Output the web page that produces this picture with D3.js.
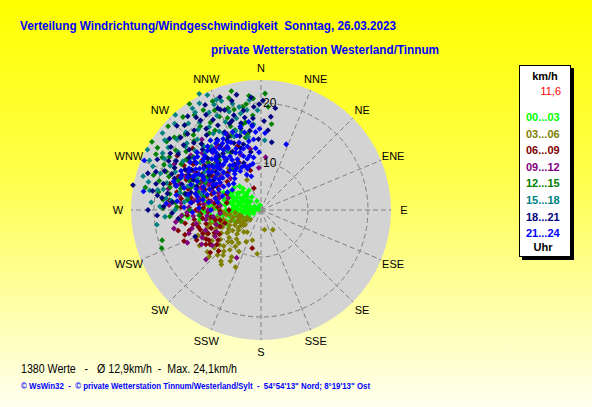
<!DOCTYPE html>
<html>
<head>
<meta charset="utf-8">
<script src="https://cdn.jsdelivr.net/npm/d3@7"></script>
<style>
  html, body { margin: 0; padding: 0; background: #fff; }
  svg { display: block; font-family: Arial, "Liberation Sans", sans-serif; }
</style>
</head>
<body>
<svg id="chart" width="592" height="407"></svg>
<script>
// wind direction labels, clockwise from north
const directions = ["N", "NNE", "NE", "ENE", "E", "ESE", "SE", "SSE", "S", "SSW", "SW", "WSW", "W", "WNW", "NW", "NNW"];
const ringTicks = [10, 20];

const timeLabels = ["00...03", "03...06", "06...09", "09...12", "12...15", "15...18", "18...21", "21...24"];
const timeColors = ["#00ff00", "#808000", "#800000", "#800080", "#008000", "#008080", "#000080", "#0000ff"];

// [direction in degrees, speed km/h] per 3-hour block
const h00 = [[297,2.9],[302,4.7],[304,5.8],[258,3.7],[243,5.1],[240,6.2],[266,7.3],[262,8.6],[261,10.3],[261,12.5],[264,14.4],[266,15.2],[272,9.8],[280,6.9],[298,6.7],[320,5.8],[349,3.0],
  [285,3.5],[290,4.2],[275,4.0],[280,5.0],[270,5.5],[265,4.8],[295,5.3],[310,4.4],[300,6.2],[288,6.0],[276,6.5],[268,6.8],[255,5.6],[250,4.3],[260,6.0],[282,7.8],[292,7.2],[305,7.0],[315,6.5],[325,4.8],[335,3.8],[285,8.5],[278,9.0],[270,8.0],[258,7.5],[248,7.0],[252,8.2],[263,9.4],[274,10.8],[268,11.5],[285,10.0],[295,9.0],[300,8.2],[310,8.0],[318,7.5],[290,3.0],[280,2.6],[300,3.4],[270,3.2],[245,3.5],[235,4.5],[312,5.8],[308,6.8],[296,8.0],[283,5.6],[273,6.0],[266,6.3],[257,6.8],[286,7.0],[292,5.8],
  [270,9.0],[276,10.2],[282,9.6],[288,8.8],[294,9.8],[264,10.6],[258,9.2],[252,9.8],[266,7.8],[272,7.0],[278,8.2],[284,7.4],[290,8.0],[296,7.4],[302,7.8],[298,5.0],[288,4.6],[278,4.8],[268,4.4],[262,5.2],[256,4.6],[272,6.4],[280,6.2],[290,6.6],[300,5.6],[306,5.0],[314,5.4],[320,6.8],[328,6.0],[262,11.2],[270,12.0],[278,11.6],[256,10.8],[250,9.4],[244,8.2]];
const h03 = [[257,5.8],[240,7.2],[236,8.8],[227,5.8],[228,4.6],[218,13.0],[211,12.1],[149,6.0],[231,12.2],[212,6.5],[243,10.6],[229,9.2],[236,9.0],[335,7.7],[334,10.1],
  [245,6.5],[250,7.5],[238,6.2],[232,7.0],[225,7.8],[220,8.5],[244,8.0],[252,9.0],[248,10.2],[240,9.8],[234,10.5],[226,10.8],[222,11.4],[238,11.8],[246,12.0],[255,11.0],[260,9.5],[262,8.0],[255,7.0],[230,6.0],[218,6.8],[215,9.6],[208,10.0],[205,8.0],[235,5.2],[242,4.8],[250,5.5],[264,6.5],[270,9.0],[275,11.5],[268,12.5],[280,13.0],[290,12.0],[300,11.5],[310,12.5],[322,11.0],[248,13.5],[240,14.0],[232,13.5],[258,12.8],[224,12.6],[196,7.4],[185,9.5],[170,5.5],[252,11.5],
  [246,9.2],[240,8.4],[234,8.0],[228,7.2],[222,9.4],[250,8.4],[256,8.6],[260,10.8],[254,10.2],[242,11.0],[236,12.4],[230,11.2],[226,9.8],[218,10.6],[212,11.4],[244,6.8],[238,5.6],[232,6.4],[248,6.0],[254,6.2],[262,7.4],[266,8.4],[272,10.2],[258,9.8],[220,12.0],[214,8.8],[204,12.6],[244,12.8],[228,13.8],[216,13.4]];
const h06 = [[256,16.4],[252,15.5],[258,13.7],[242,12.5],[240,12.2],[235,10.9],[193,8.7],[342,6.0],[303,18.8],
  [250,11.0],[262,12.0],[266,14.5],[270,13.0],[275,12.5],[280,14.0],[284,11.5],[290,13.5],[295,15.0],[300,14.5],[305,12.0],[298,10.5],[288,9.5],[278,10.0],[268,9.0],[258,10.0],[248,9.5],[245,14.0],[238,13.0],[232,11.5],[255,13.0],[264,16.0],[272,15.5],[282,16.5],[292,17.0],[310,15.0],[315,13.0],[320,16.0],[325,12.5],[330,14.0],[312,17.5],[300,17.0],[286,18.0],[276,17.5],[268,11.0],[260,15.0],[248,16.0],[310,9.5],[318,10.5],[335,11.0],[345,9.0],[340,13.5],[295,8.5],[282,8.0],[270,7.5],
  [252,12.8],[246,11.8],[240,10.2],[256,11.6],[262,13.4],[266,12.2],[272,11.8],[278,12.6],[284,13.4],[290,12.2],[296,13.2],[302,13.6],[308,14.2],[262,10.6],[256,9.2],[250,8.6],[244,10.8],[236,12.4],[230,13.2],[226,12.0],[272,14.2],[278,15.6],[286,14.8],[292,15.6],[298,16.2],[304,15.8],[314,14.6],[320,13.6],[326,15.4],[274,9.4],[280,11.0],[288,10.8],[296,11.8],[248,12.6],[254,14.6]];
const h09 = [[255,14.1],[207,11.1],[343,9.7],[357,9.2],[275,15.5],[265,13.5],[260,11.5],[270,11.0],[280,12.5],[288,14.5],[294,16.0],[300,13.0],[306,15.5],[312,14.0],[318,12.0],[325,15.0],[330,10.5],[285,10.0],[276,9.0],[292,11.0],[302,10.0],[250,12.0],[245,13.0],[262,16.5],[273,17.5],[283,18.0],[298,18.5],[308,17.0],[320,17.5],[336,16.0],[350,12.5],[340,12.0],[316,9.5],[290,8.0],[265,9.0],[252,10.0],[258,17.0],[310,11.0],[296,12.0],[280,16.0],[268,14.5],[240,11.0],[228,14.5],[5,11.0],
  [278,13.4],[284,12.2],[290,12.8],[296,14.2],[302,12.4],[308,13.2],[314,15.8],[282,14.8],[276,11.8],[270,12.6],[264,11.2],[258,13.2],[252,14.8],[246,15.6],[240,13.6],[272,14.2],[288,16.4],[294,13.2],[300,15.2],[306,11.6],[286,9.4],[280,10.6],[292,9.8],[298,11.6],[262,10.2],[234,12.2],[244,10.4],[266,15.4],[304,16.6],[320,14.6]];
const h12 = [[346,22.6],[354,21.3],[4,19.4],[7,16.6],[320,22.4],[302,23.6],[301,22.3],[281,21.8],[271,18.5],[253,19.4],[249,19.9],
  [295,20.0],[305,19.5],[310,21.0],[315,20.0],[325,21.5],[330,19.0],[335,20.5],[340,18.5],[345,19.5],[350,17.0],[355,18.0],[300,17.5],[290,18.5],[285,16.0],[308,16.5],[318,17.0],[328,16.0],[338,15.5],[348,14.5],[312,14.0],[322,13.5],[332,13.0],[300,14.0],[292,15.0],[296,12.5],[305,11.5],[315,11.0],[325,10.5],[286,13.0],[278,14.5],[275,16.5],[280,19.5],[288,21.0],[298,22.0],[312,23.0],[326,23.5],[336,22.0],[342,20.0],[318,19.0],[308,18.0],[320,15.5],[330,17.5],[340,17.0],[350,15.0],[352,20.0],[300,19.8],[294,13.5],[270,14.0],[265,12.5],[283,12.0],
  [324,19.4],[318,21.2],[312,20.4],[306,21.6],[298,20.8],[292,19.2],[286,19.8],[280,17.6],[330,21.4],[336,19.2],[344,21.6],[350,19.6],[356,20.8],[2,21.6],[316,18.2],[310,16.0],[304,17.2],[296,18.2],[290,16.8],[284,17.8],[276,18.6],[272,16.2],[266,17.4],[326,17.6],[334,15.2],[342,16.2],[348,16.8],[320,13.0],[314,12.4],[308,13.6],[302,12.6],[296,15.6],[288,14.4],[282,15.2],[262,15.6]];
const h15 = [[332,24.1],[335,23.3],[338,22.0],[330,22.7],[326,22.6],[308,23.0],[298,23.6],[300,21.1],[281,19.7],[277,18.1],[262,19.7],[348,19.7],[3,13.8],
  [320,21.0],[315,22.5],[310,20.5],[305,19.0],[325,20.0],[335,19.5],[340,21.5],[345,18.0],[328,18.5],[318,18.0],[312,17.0],[302,17.5],[296,19.0],[290,20.0],[286,18.5],[292,16.5],[300,15.5],[308,15.0],[316,15.5],[324,16.5],[332,17.0],[342,16.0],[350,14.5],[355,16.5],[322,14.0],[330,13.5],[314,13.0],[304,13.5],[296,14.0],[288,15.0],[282,16.0],[276,15.0],[270,16.5],[274,20.5],[284,21.5],[294,22.5],[306,22.0],[318,23.5],[338,18.0],[345,20.5],[352,19.0],[320,12.0],[310,11.5],[285,12.5],
  [322,19.2],[316,20.2],[310,18.6],[304,20.8],[298,20.4],[292,21.6],[286,22.6],[280,21.0],[326,21.8],[332,20.6],[336,21.4],[342,19.4],[348,18.6],[354,20.6],[358,18.8],[318,16.4],[312,18.8],[306,16.8],[300,18.6],[294,17.8],[288,17.2],[282,18.8],[276,17.2],[272,19.0],[266,18.2],[328,17.2],[334,16.4],[340,15.2],[346,15.6],[322,15.6],[314,14.6],[306,12.8],[298,12.6],[290,14.2],[280,14.6]];
const h18 = [[359,19.8],[8,19.3],[9,13.6],[337,20.6],[340,19.9],[315,22.0],[296,21.4],[281,23.9],[280,20.5],[277,18.8],[267,19.5],[248,14.0],
  [325,21.0],[330,20.5],[320,19.5],[310,19.0],[300,18.5],[305,20.5],[345,21.0],[350,19.0],[355,17.5],[347,17.0],[340,17.5],[333,18.0],[326,18.5],[318,17.0],[312,16.5],[306,17.0],[298,16.5],[290,17.5],[285,19.0],[292,19.5],[336,15.5],[344,15.0],[352,15.5],[358,14.0],[328,16.0],[320,15.0],[314,14.5],[308,14.0],[300,13.5],[294,14.5],[288,16.0],[282,15.0],[275,17.0],[342,13.0],[334,13.0],[326,13.5],[318,12.5],[310,12.0],[302,11.5],[296,11.0],[330,11.0],[340,10.5],[350,12.0],[5,15.5],[2,17.0],[355,21.0],[322,22.0],[308,21.5],[288,22.0],[270,21.0],[315,18.0],[300,15.5],[335,16.5],[345,13.5],
  [324,17.6],[316,19.8],[310,17.8],[304,18.8],[298,19.6],[292,18.2],[286,17.0],[280,18.0],[332,19.2],[338,20.2],[344,18.6],[350,17.8],[356,19.4],[1,20.4],[6,17.8],[348,21.8],[340,22.2],[332,22.0],[326,20.2],[318,21.2],[312,20.2],[302,20.0],[296,18.2],[290,20.8],[284,20.2],[278,19.6],[272,18.4],[268,17.0],[264,16.0],[328,14.8],[322,13.6],[316,16.2],[306,15.8],[296,15.6],[338,14.2],[346,16.2],[354,16.4],[312,13.2],[304,12.6],[290,13.6],[284,14.2],[276,13.8],[334,15.0],[342,17.8]];
const h21 = [[3,15.0],[21,13.9],[293,23.3],[279,22.0],[359,15.7],
  [320,12.0],[315,11.0],[310,10.5],[305,11.5],[300,12.0],[325,13.0],[330,12.5],[335,11.5],[340,10.0],[345,11.0],[350,10.0],[355,12.5],[328,14.0],[322,15.0],[316,14.0],[310,13.5],[304,14.5],[298,13.0],[292,12.5],[286,11.5],[280,12.0],[296,10.0],[302,9.5],[308,9.0],[314,8.5],[320,9.0],[326,10.0],[332,9.5],[338,8.5],[344,8.0],[290,10.5],[284,10.0],[278,11.0],[272,12.5],[276,14.0],[282,14.5],[288,13.5],[294,15.5],[300,16.0],[306,15.5],[312,16.5],[318,15.5],[324,16.5],[330,15.0],[336,14.5],[342,14.0],[348,13.0],[354,14.0],[335,16.2],[328,15.8],[320,16.0],[312,15.0],[304,16.4],[296,17.0],[288,17.5],[280,16.5],[274,18.0],[340,16.0],[346,16.5],[352,17.0],[318,13.6],[326,12.4],[334,14.8],[342,15.2],[315,11.8],[308,12.5],[300,10.8],[325,11.2],[332,13.8],[286,15.5],[298,14.6],[310,14.8],[322,14.4],[290,9.0],[280,9.5],[270,10.5],[305,8.0],[298,8.5],
  [318,13.2],[312,12.8],[306,13.0],[300,14.2],[294,13.8],[324,12.2],[330,11.8],[336,12.6],[342,11.6],[348,11.4],[314,15.2],[308,16.2],[302,15.0],[296,14.8],[320,14.8],[326,14.6],[332,15.6],[338,13.2],[344,12.8],[350,13.8],[288,12.2],[284,13.4],[278,12.8],[290,14.6],[316,10.2],[310,11.6],[304,10.4],[298,11.2],[292,11.4],[322,10.6],[328,11.0],[334,10.8],[340,12.4],[346,9.8],[352,11.0],[316,12.6],[310,16.0],[306,10.8],[300,13.4],[324,9.6],[330,10.2],[336,10.0],[342,9.4],[348,15.4],[294,16.6],[286,16.8],[282,13.0],[276,16.2],[272,15.0],[268,13.6],[356,15.2],[354,16.2],[358,11.8],[320,13.8],[314,12.2],[306,14.0],[298,15.8],[292,16.6],[326,15.6],[332,14.2]];
const blocks = [h00, h03, h06, h09, h12, h15, h18, h21];

const currentSpeed = "11,6";
const statsText = "1380 Werte   -   \u00d8 12,9km/h  -  Max. 24,1km/h";
const titleText = "Verteilung Windrichtung/Windgeschwindigkeit  Sonntag, 26.03.2023";
const subtitleText = "private Wetterstation Westerland/Tinnum";
const footerText = "\u00a9 WsWin32  -  \u00a9 private Wetterstation Tinnum/Westerland/Sylt  -  54\u00b054'13\" Nord; 8\u00b019'13\" Ost";

const svg = d3.select("#chart");
const cx = 261, cy = 210, outerR = 130;

// background gradient
const defs = svg.append("defs");
const grad = defs.append("linearGradient").attr("id", "bg").attr("x1", 0).attr("y1", 0).attr("x2", 0).attr("y2", 1);
grad.append("stop").attr("offset", "0%").attr("stop-color", "#ffff00");
grad.append("stop").attr("offset", "45%").attr("stop-color", "#ffff50");
grad.append("stop").attr("offset", "100%").attr("stop-color", "#fffff0");
svg.append("rect").attr("width", 592).attr("height", 407).attr("fill", "url(#bg)");

// scales: speed -> radius, direction -> angle
const rScale = d3.scaleLinear().domain([10, 20]).range([47, 107]);
const aScale = d3.scaleLinear().domain([0, 360]).range([0, 2 * Math.PI]);
const px = (dir, v) => cx + Math.max(0, rScale(v)) * Math.sin(aScale(dir));
const py = (dir, v) => cy - Math.max(0, rScale(v)) * Math.cos(aScale(dir));

const plot = svg.append("g");
plot.append("circle").attr("cx", cx).attr("cy", cy).attr("r", outerR).attr("fill", "#d3d3d3");

// radial grid
plot.selectAll(".spoke").data(directions).enter().append("line")
    .attr("x1", cx).attr("y1", cy)
    .attr("x2", (d, i) => cx + outerR * Math.sin(aScale(i * 22.5)))
    .attr("y2", (d, i) => cy - outerR * Math.cos(aScale(i * 22.5)))
    .attr("stroke", "#808080").attr("stroke-width", 1).attr("stroke-dasharray", "5,3");

plot.selectAll(".ring").data(ringTicks).enter().append("circle")
    .attr("cx", cx).attr("cy", cy).attr("r", d => rScale(d))
    .attr("fill", "none").attr("stroke", "#808080").attr("stroke-width", 1).attr("stroke-dasharray", "5,3");

plot.append("rect").attr("x", cx - 3).attr("y", cy - 3).attr("width", 6).attr("height", 6).attr("fill", "#909090");

// wind points, oldest block first
const diamond = d3.symbol(d3.symbolSquare, 17)();
blocks.forEach((pts, k) => {
  plot.append("g").selectAll("path").data(pts).enter().append("path")
      .attr("d", diamond)
      .attr("transform", d => `translate(${px(d[0], d[1])},${py(d[0], d[1])}) rotate(45)`)
      .attr("fill", timeColors[k]);
});

// ring labels
plot.selectAll(".ringlab").data(ringTicks).enter().append("text")
    .attr("x", cx + 2).attr("y", d => cy - rScale(d) + 4)
    .attr("font-size", 12).attr("fill", "#000").text(d => d);

// direction labels
svg.selectAll(".dirlab").data(directions).enter().append("text")
    .attr("x", (d, i) => cx + 143 * Math.sin(aScale(i * 22.5)))
    .attr("y", (d, i) => cy - 142 * Math.cos(aScale(i * 22.5)) + 4)
    .attr("text-anchor", "middle").attr("font-size", 11).attr("fill", "#000")
    .text(d => d);

// titles
svg.append("text").attr("x", 20).attr("y", 30).attr("font-size", 13).attr("font-weight", "bold")
    .attr("fill", "#0000ff").attr("textLength", 376).attr("lengthAdjust", "spacingAndGlyphs")
    .style("white-space", "pre").text(titleText);
svg.append("text").attr("x", 211).attr("y", 54).attr("font-size", 13).attr("font-weight", "bold")
    .attr("fill", "#0000ff").attr("textLength", 228).attr("lengthAdjust", "spacingAndGlyphs")
    .text(subtitleText);

svg.append("text").attr("x", 21).attr("y", 373).attr("font-size", 12).attr("fill", "#000")
    .attr("textLength", 216).attr("lengthAdjust", "spacingAndGlyphs")
    .style("white-space", "pre").text(statsText);
svg.append("text").attr("x", 21).attr("y", 389).attr("font-size", 8.5).attr("font-weight", "bold")
    .attr("fill", "#0000ff").attr("textLength", 349).attr("lengthAdjust", "spacingAndGlyphs")
    .style("white-space", "pre").text(footerText);

// legend
const lg = svg.append("g");
lg.append("rect").attr("x", 522).attr("y", 68).attr("width", 52).attr("height", 192).attr("fill", "#000");
lg.append("rect").attr("x", 519.5).attr("y", 65.5).attr("width", 51).attr("height", 191)
    .attr("fill", "#fff").attr("stroke", "#000").attr("stroke-width", 1);
lg.append("text").attr("x", 545).attr("y", 80).attr("text-anchor", "middle").attr("font-size", 11)
    .attr("font-weight", "bold").text("km/h");
lg.append("text").attr("x", 561).attr("y", 95).attr("text-anchor", "end").attr("font-size", 11)
    .attr("fill", "#ff0000").text(currentSpeed);
lg.selectAll(".lgitem").data(timeLabels).enter().append("text")
    .attr("x", 526).attr("y", (d, i) => 121 + i * 16.6)
    .attr("font-size", 11).attr("font-weight", "bold")
    .attr("fill", (d, i) => timeColors[i]).text(d => d);
lg.append("text").attr("x", 543).attr("y", 251).attr("text-anchor", "middle").attr("font-size", 11)
    .attr("font-weight", "bold").text("Uhr");
</script>
</body>
</html>
